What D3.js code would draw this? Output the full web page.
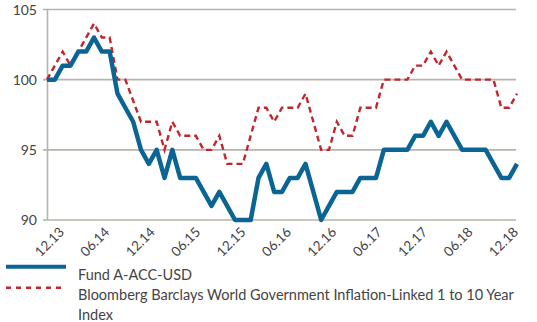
<!DOCTYPE html>
<html>
<head>
<meta charset="utf-8">
<script src="https://cdn.jsdelivr.net/npm/d3@7"></script>
<style>
  html, body { margin: 0; padding: 0; background: #fff; }
  svg { display: block; font-family: "Lato", "Open Sans", sans-serif; }
</style>
</head>
<body>
<svg id="chart" width="537" height="322"></svg>
<script>
// Monthly indexed performance, Dec 2013 = 100
const fund = [100,100,101,101,102,102,103,102,102,99,98,97,95,94,95,93,95,93,93,93,
  92,91,92,91,90,90,90,93,94,92,92,93,93,94,92,90,91,92,92,92,
  93,93,93,95,95,95,95,96,96,97,96,97,96,95,95,95,95,94,93,93,94];
const benchmark = [100,101,102,101,102,103,104,103,103,100,100,98.5,97,97,97,95,97,96,96,96,
  95,95,96,94,94,94,96,98,98,97,98,98,98,99,97,95,95,97,96,96,
  98,98,98,100,100,100,100,101,101,102,101,102,101,100,100,100,100,100,98,98,99];
const xLabels = ["12.13","06.14","12.14","06.15","12.15","06.16","12.16","06.17","12.17","06.18","12.18"];
const yTicks = [90, 95, 100, 105];
const seriesNames = ["Fund A-ACC-USD",
  ["Bloomberg Barclays World Government Inflation-Linked 1 to 10 Year", "Index"]];

const svg = d3.select("#chart");
const gridColor = "#b9b2aa";
const textColor = "#444444";
const blue = "#0b6594";
const red = "#c0272d";

const x = d3.scaleLinear().domain([0, fund.length - 1]).range([47, 517]);
const y = d3.scaleLinear().domain([90, 105]).range([220, 9.5]);
const xl = d3.scalePoint().domain(xLabels).range([65, 519]);

// horizontal gridlines
svg.append("g")
  .selectAll("line")
  .data(yTicks)
  .join("line")
  .attr("x1", 43).attr("x2", 516)
  .attr("y1", d => y(d)).attr("y2", d => y(d))
  .attr("stroke", gridColor).attr("stroke-width", 1.6);

// y axis line
svg.append("line")
  .attr("x1", 47.5).attr("x2", 47.5)
  .attr("y1", y(105)).attr("y2", y(90))
  .attr("stroke", gridColor).attr("stroke-width", 1.6);

// y tick labels
svg.append("g")
  .selectAll("text")
  .data(yTicks)
  .join("text")
  .attr("x", 37).attr("y", d => y(d))
  .attr("dy", "0.36em")
  .attr("text-anchor", "end")
  .attr("font-size", 14)
  .attr("fill", textColor)
  .text(d => d);

// x tick labels, rotated
svg.append("g")
  .selectAll("text")
  .data(xLabels)
  .join("text")
  .attr("transform", d => `translate(${xl(d)},233) rotate(-45)`)
  .attr("text-anchor", "end")
  .attr("font-size", 13.5)
  .attr("fill", textColor)
  .text(d => d);

const line = d3.line().x((d, i) => x(i)).y(d => y(d));

svg.append("path")
  .datum(benchmark)
  .attr("d", line)
  .attr("fill", "none")
  .attr("stroke", red)
  .attr("stroke-width", 2.4)
  .attr("stroke-dasharray", "6,4");

svg.append("path")
  .datum(fund)
  .attr("d", line)
  .attr("fill", "none")
  .attr("stroke", blue)
  .attr("stroke-width", 4.5)
  .attr("stroke-linejoin", "round");

// legend
const legend = svg.append("g");
legend.append("line")
  .attr("x1", 6).attr("x2", 66).attr("y1", 266.7).attr("y2", 266.7)
  .attr("stroke", blue).attr("stroke-width", 4);
legend.append("line")
  .attr("x1", 6).attr("x2", 66).attr("y1", 287.7).attr("y2", 287.7)
  .attr("stroke", red).attr("stroke-width", 2.4)
  .attr("stroke-dasharray", "5,5");
legend.append("text")
  .attr("x", 78).attr("y", 280)
  .attr("font-size", 14.5).attr("fill", textColor)
  .text(seriesNames[0]);
const t2 = legend.append("text")
  .attr("font-size", 14.5).attr("fill", textColor);
seriesNames[1].forEach((s, i) => {
  t2.append("tspan").attr("x", 78).attr("y", 300 + i * 19.5).text(s);
});
</script>
</body>
</html>
